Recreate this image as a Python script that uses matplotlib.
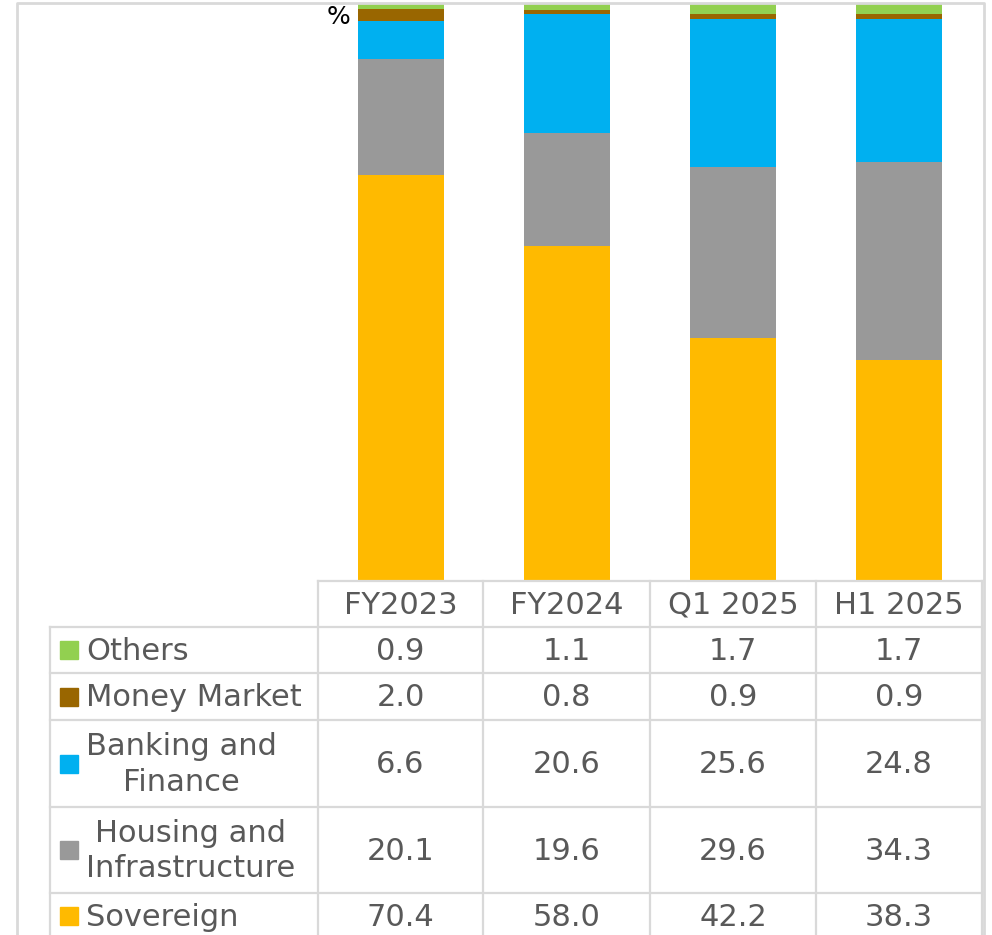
import matplotlib
matplotlib.use("Agg")
import matplotlib.pyplot as plt
import numpy as np

# data (bottom -> top of each stack)
periods = ["FY2023", "FY2024", "Q1 2025", "H1 2025"]
sovereign = [70.4, 58.0, 42.2, 38.3]
housing = [20.1, 19.6, 29.6, 34.3]
banking = [6.6, 20.6, 25.6, 24.8]
money_market = [2.0, 0.8, 0.9, 0.9]
others = [0.9, 1.1, 1.7, 1.7]

series = [
    ("Sovereign", sovereign, "#FFBA00"),
    ("Housing and\nInfrastructure", housing, "#999999"),
    ("Banking and\nFinance", banking, "#00B0F0"),
    ("Money Market", money_market, "#996600"),
    ("Others", others, "#92D050"),
]

W, H = 992, 935
fig = plt.figure(figsize=(W / 100, H / 100), dpi=100)
txt = "#595959"
grid = "#D9D9D9"
fs = 22

# bar axes in pixel layout
x0, x1 = 318, 982
ytop, ybot = 4, 581
ax = fig.add_axes([x0 / W, 1 - ybot / H, (x1 - x0) / W, (ybot - ytop) / H])
xs = np.arange(len(periods)) + 0.5
bottom = np.zeros(len(periods))
for name, vals, col in series:
    ax.bar(xs, vals, 0.52, bottom=bottom, color=col, edgecolor="none")
    bottom += np.array(vals)
ax.set_xlim(0, len(periods))
ax.set_ylim(0, 100)
ax.axis("off")

# overlay for table + frame, pixel coordinates
ov = fig.add_axes([0, 0, 1, 1], facecolor="none")
ov.set_xlim(0, W)
ov.set_ylim(H, 0)
ov.axis("off")

lw = 1.6
# outer frame
ov.plot([17, 17, 984, 984], [H + 5, 3, 3, H + 5], color=grid, lw=2, clip_on=False)

ov.text(339, 17, "%", ha="center", va="center", fontsize=18, color="black")

col_edges = [318, 483, 650, 816, 982]
row_edges = [581, 627, 673, 720, 807, 893, 940]
lab_x0 = 50

# horizontal lines
ov.plot([col_edges[0], col_edges[-1]], [row_edges[0]] * 2, color=grid, lw=lw)
for y in row_edges[1:]:
    ov.plot([lab_x0, col_edges[-1]], [y, y], color=grid, lw=lw)
# vertical lines
for x in col_edges:
    ov.plot([x, x], [row_edges[0], H + 5], color=grid, lw=lw)
ov.plot([lab_x0, lab_x0], [row_edges[1], H + 5], color=grid, lw=lw)

# header
for i, p in enumerate(periods):
    cx = (col_edges[i] + col_edges[i + 1]) / 2
    ov.text(cx, (row_edges[0] + row_edges[1]) / 2 + 1, p, ha="center", va="center",
            fontsize=fs, color=txt)

# rows, top -> bottom
for r, (name, vals, col) in enumerate(series[::-1]):
    cy = (row_edges[r + 1] + row_edges[r + 2]) / 2
    if r == len(series) - 1:
        cy = 916
    ov.add_patch(plt.Rectangle((60, cy - 9), 18, 18, color=col))
    ov.text(86, cy + 1, name, ha="left", va="center", fontsize=fs, color=txt,
            multialignment="center", linespacing=1.3)
    for i, v in enumerate(vals):
        cx = (col_edges[i] + col_edges[i + 1]) / 2
        ov.text(cx, cy + 1, f"{v:.1f}", ha="center", va="center", fontsize=fs, color=txt)

fig.savefig("out.png", dpi=100)
